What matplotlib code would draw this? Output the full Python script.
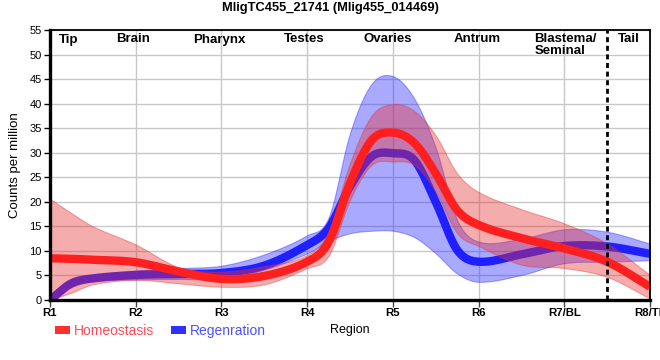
import numpy as np
import matplotlib
matplotlib.use("Agg")
import matplotlib.pyplot as plt
from matplotlib.patches import Patch

plt.rcParams['font.family'] = ['Liberation Sans', 'DejaVu Sans']

# ---- data ----
x_pos = [1, 1.25, 1.5, 2, 2.5, 3, 3.5, 4, 4.25, 4.5, 4.75, 5, 5.25, 5.5, 5.75, 6, 6.5, 7, 7.5, 8]

homeo_mean = [8.5, 8.4, 8.2, 7.7, 5.8, 4.3, 4.9, 7.8, 11.8, 23.8, 32.5, 34.1, 32.0, 25.8, 18.3, 15.3, 12.6, 10.5, 7.8, 2.7]
homeo_upper = [20.6, 17.7, 15.0, 11.3, 6.7, 5.8, 6.9, 9.2, 14.0, 27.9, 37.5, 39.9, 38.5, 33.5, 25.8, 22.0, 18.5, 15.6, 11.5, 5.1]
homeo_lower = [0.0, 1.5, 3.2, 4.1, 3.4, 2.7, 3.2, 6.5, 9.0, 20.4, 27.5, 28.2, 27.5, 22.0, 13.6, 11.0, 7.2, 6.5, 4.7, 0.3]

regen_mean = [0.0, 3.4, 4.4, 5.1, 5.3, 5.5, 7.0, 11.2, 14.6, 23.1, 29.2, 29.9, 28.5, 20.0, 10.2, 7.8, 9.3, 11.0, 10.9, 9.4]
regen_upper = [0.3, 4.0, 5.0, 6.0, 6.5, 7.0, 9.3, 13.2, 16.8, 34.0, 44.0, 45.6, 41.0, 31.0, 16.3, 11.9, 12.5, 14.4, 13.9, 11.5]
regen_lower = [0.0, 2.6, 3.8, 4.2, 4.3, 4.3, 6.2, 9.5, 12.0, 13.6, 14.1, 14.1, 12.8, 9.5, 5.4, 3.7, 5.1, 7.5, 7.8, 8.1]

tick_positions = [1, 2, 3, 4, 5, 6, 7, 8]
tick_labels = ['R1', 'R2', 'R3', 'R4', 'R5', 'R6', 'R7/BL', 'R8/TL']

region_names = ['Tip', 'Brain', 'Pharynx', 'Testes', 'Ovaries', 'Antrum', 'Blastema/\nSeminal', 'Tail']
region_x = [1.22, 1.97, 2.98, 3.96, 4.94, 5.98, 6.65, 7.75]
region_ha = ['center', 'center', 'center', 'center', 'center', 'center', 'left', 'center']

boundary_x = 7.5


def smooth(x, y, xs):
    """Cubic Hermite curve through the read points (finite-difference tangents)."""
    x = np.asarray(x, float); y = np.asarray(y, float)
    n = len(x)
    h = np.diff(x)
    m = np.zeros(n)
    m[1:-1] = (y[2:] - y[:-2]) / (x[2:] - x[:-2])
    m[0] = (y[1] - y[0]) / h[0]
    m[-1] = (y[-1] - y[-2]) / h[-1]
    idx = np.clip(np.searchsorted(x, xs) - 1, 0, n - 2)
    t = (xs - x[idx]) / h[idx]
    h00 = 2 * t**3 - 3 * t**2 + 1
    h10 = t**3 - 2 * t**2 + t
    h01 = -2 * t**3 + 3 * t**2
    h11 = t**3 - t**2
    return h00 * y[idx] + h10 * h[idx] * m[idx] + h01 * y[idx + 1] + h11 * h[idx] * m[idx + 1]


xs = np.linspace(1, 8, 700)

fig = plt.figure(figsize=(6.6, 3.6), dpi=100)
ax = fig.add_axes([50 / 660, 1 - 300 / 360, 600 / 660, 270 / 360])

red_band = '#e83030'
blue_band = '#2828ff'
red_line = '#ff1f1f'
blue_line = '#1f1fff'

ax.fill_between(xs, smooth(x_pos, regen_lower, xs), smooth(x_pos, regen_upper, xs),
                color=blue_band, alpha=0.4, lw=0.8, zorder=2)
ax.plot(xs, smooth(x_pos, regen_mean, xs), color=blue_line, lw=6, solid_capstyle='butt', zorder=3)
ax.fill_between(xs, smooth(x_pos, homeo_lower, xs), smooth(x_pos, homeo_upper, xs),
                color=red_band, alpha=0.4, lw=0.8, zorder=4)
ax.plot(xs, smooth(x_pos, homeo_mean, xs), color=red_line, lw=6, solid_capstyle='butt', zorder=5)

ax.axvline(boundary_x, color='black', lw=2, linestyle=(0, (1.8, 1.3)), zorder=6)

ax.set_xlim(1, 8)
ax.set_ylim(0, 55)
ax.set_yticks(np.arange(0, 56, 5))
ax.set_xticks(tick_positions)
ax.set_xticklabels(tick_labels, fontweight='bold', fontsize=8.2)
ax.tick_params(axis='y', labelsize=8, length=4, width=1, pad=2)
ax.tick_params(axis='x', length=5, width=1, pad=1, color='#444444')
ax.grid(True, color='#c8c8c8', lw=1)
ax.set_axisbelow(True)

ax.spines['left'].set_linewidth(2.4)
ax.spines['bottom'].set_linewidth(2.4)
ax.spines['top'].set_linewidth(1.3)
ax.spines['right'].set_linewidth(1.3)
for s in ax.spines.values():
    s.set_color('black')
    s.set_zorder(7)

ax.set_ylabel('Counts per million', fontsize=9.5, labelpad=6)
ax.set_xlabel('Region', fontsize=9, labelpad=4)

for name, xp, ha in zip(region_names, region_x, region_ha):
    ax.text(xp, 1 - 3.5 / 270, name, transform=ax.get_xaxis_transform(), ha=ha, va='top',
            fontsize=9.5, fontweight='bold', linespacing=0.95, zorder=8)

fig.text(330 / 660, 1 - 8 / 360, 'MligTC455_21741 (Mlig455_014469)', ha='center', va='center',
         fontsize=9.3, fontweight='bold')

handles = [Patch(facecolor='#ff3030', edgecolor='none'), Patch(facecolor='#3030ff', edgecolor='none')]
leg = fig.legend(handles, ['Homeostasis', 'Regenration'], loc='center left',
                 bbox_to_anchor=(55 / 660, 1 - 331 / 360), ncol=2, frameon=False,
                 fontsize=10, handlelength=1.08, handleheight=0.5, handletextpad=0.3,
                 columnspacing=1.2, borderpad=0, borderaxespad=0)
leg.get_texts()[0].set_color('#ff4a5a')
leg.get_texts()[1].set_color('#5050ff')

fig.savefig('out.png', dpi=100)
